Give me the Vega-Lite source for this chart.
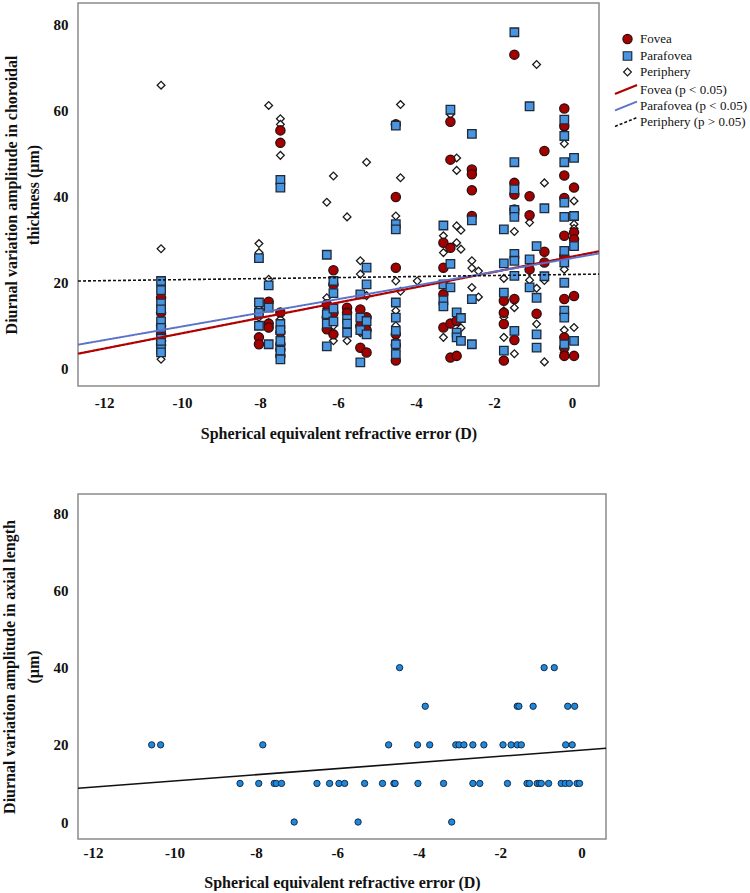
{
  "$schema": "https://vega.github.io/schema/vega-lite/v6.json",
  "background": "white",
  "padding": {"left": 0, "top": 2, "right": 0, "bottom": 0},
  "config": {
    "font": "Liberation Serif",
    "view": {"stroke": "#8a8a8a", "strokeWidth": 1.5},
    "axis": {"grid": false, "domain": false, "ticks": false, "labelFont": "Liberation Serif", "labelFontWeight": "bold", "labelFontSize": 15, "labelColor": "#111", "titleFont": "Liberation Serif", "titleFontWeight": "bold", "titleFontSize": 16, "titleColor": "#111"}
  },
  "datasets": {
    "a": [
      {"se": -10.54, "amp": 65.9, "r": "Periphery"}, {"se": -10.54, "amp": 27.9, "r": "Periphery"}, {"se": -10.54, "amp": 11.3, "r": "Periphery"}, {"se": -10.54, "amp": 9.0, "r": "Periphery"}, {"se": -10.54, "amp": 7.0, "r": "Periphery"}, {"se": -10.54, "amp": 5.0, "r": "Periphery"}, {"se": -10.54, "amp": 2.2, "r": "Periphery"},
      {"se": -8.03, "amp": 29.1, "r": "Periphery"}, {"se": -8.03, "amp": 27.0, "r": "Periphery"}, {"se": -8.03, "amp": 14.5, "r": "Periphery"}, {"se": -8.03, "amp": 12.0, "r": "Periphery"},
      {"se": -7.78, "amp": 61.2, "r": "Periphery"}, {"se": -7.78, "amp": 20.8, "r": "Periphery"}, {"se": -7.78, "amp": 10.7, "r": "Periphery"}, {"se": -7.78, "amp": 9.5, "r": "Periphery"},
      {"se": -7.48, "amp": 58.1, "r": "Periphery"}, {"se": -7.48, "amp": 56.8, "r": "Periphery"}, {"se": -7.48, "amp": 49.6, "r": "Periphery"}, {"se": -7.48, "amp": 11.5, "r": "Periphery"}, {"se": -7.48, "amp": 8.0, "r": "Periphery"}, {"se": -7.48, "amp": 7.0, "r": "Periphery"},
      {"se": -6.29, "amp": 38.7, "r": "Periphery"}, {"se": -6.29, "amp": 16.5, "r": "Periphery"}, {"se": -6.29, "amp": 14.0, "r": "Periphery"}, {"se": -6.29, "amp": 11.5, "r": "Periphery"},
      {"se": -6.12, "amp": 44.8, "r": "Periphery"}, {"se": -6.12, "amp": 12.5, "r": "Periphery"}, {"se": -6.12, "amp": 10.0, "r": "Periphery"}, {"se": -6.12, "amp": 6.5, "r": "Periphery"},
      {"se": -5.77, "amp": 35.3, "r": "Periphery"}, {"se": -5.77, "amp": 12.5, "r": "Periphery"}, {"se": -5.77, "amp": 9.6, "r": "Periphery"}, {"se": -5.77, "amp": 6.5, "r": "Periphery"},
      {"se": -5.43, "amp": 25.1, "r": "Periphery"}, {"se": -5.43, "amp": 22.0, "r": "Periphery"}, {"se": -5.43, "amp": 11.0, "r": "Periphery"}, {"se": -5.43, "amp": 8.4, "r": "Periphery"},
      {"se": -5.27, "amp": 48.0, "r": "Periphery"}, {"se": -5.27, "amp": 17.0, "r": "Periphery"}, {"se": -5.27, "amp": 10.0, "r": "Periphery"},
      {"se": -4.52, "amp": 35.5, "r": "Periphery"}, {"se": -4.52, "amp": 20.4, "r": "Periphery"}, {"se": -4.52, "amp": 13.5, "r": "Periphery"}, {"se": -4.52, "amp": 10.0, "r": "Periphery"}, {"se": -4.52, "amp": 6.5, "r": "Periphery"}, {"se": -4.52, "amp": 4.0, "r": "Periphery"},
      {"se": -4.40, "amp": 61.4, "r": "Periphery"}, {"se": -4.40, "amp": 44.4, "r": "Periphery"}, {"se": -4.40, "amp": 18.0, "r": "Periphery"},
      {"se": -3.97, "amp": 20.4, "r": "Periphery"},
      {"se": -3.30, "amp": 30.9, "r": "Periphery"}, {"se": -3.30, "amp": 27.0, "r": "Periphery"}, {"se": -3.30, "amp": 7.3, "r": "Periphery"},
      {"se": -3.12, "amp": 59.1, "r": "Periphery"}, {"se": -3.12, "amp": 28.0, "r": "Periphery"},
      {"se": -2.96, "amp": 49.0, "r": "Periphery"}, {"se": -2.96, "amp": 46.1, "r": "Periphery"}, {"se": -2.96, "amp": 33.2, "r": "Periphery"}, {"se": -2.96, "amp": 29.3, "r": "Periphery"}, {"se": -2.96, "amp": 8.5, "r": "Periphery"},
      {"se": -2.85, "amp": 32.2, "r": "Periphery"}, {"se": -2.85, "amp": 27.8, "r": "Periphery"}, {"se": -2.85, "amp": 9.5, "r": "Periphery"},
      {"se": -2.57, "amp": 25.1, "r": "Periphery"}, {"se": -2.57, "amp": 23.4, "r": "Periphery"}, {"se": -2.57, "amp": 18.9, "r": "Periphery"},
      {"se": -2.40, "amp": 22.7, "r": "Periphery"}, {"se": -2.40, "amp": 16.7, "r": "Periphery"},
      {"se": -1.75, "amp": 21.0, "r": "Periphery"}, {"se": -1.75, "amp": 13.5, "r": "Periphery"}, {"se": -1.75, "amp": 12.0, "r": "Periphery"}, {"se": -1.75, "amp": 7.3, "r": "Periphery"},
      {"se": -1.48, "amp": 31.9, "r": "Periphery"}, {"se": -1.48, "amp": 26.0, "r": "Periphery"}, {"se": -1.48, "amp": 14.2, "r": "Periphery"}, {"se": -1.48, "amp": 3.5, "r": "Periphery"},
      {"se": -1.09, "amp": 34.0, "r": "Periphery"}, {"se": -1.09, "amp": 20.6, "r": "Periphery"},
      {"se": -0.91, "amp": 70.7, "r": "Periphery"}, {"se": -0.91, "amp": 18.7, "r": "Periphery"}, {"se": -0.91, "amp": 10.4, "r": "Periphery"},
      {"se": -0.71, "amp": 43.2, "r": "Periphery"}, {"se": -0.71, "amp": 20.5, "r": "Periphery"}, {"se": -0.71, "amp": 1.6, "r": "Periphery"},
      {"se": -0.20, "amp": 55.8, "r": "Periphery"}, {"se": -0.20, "amp": 52.3, "r": "Periphery"}, {"se": -0.20, "amp": 23.1, "r": "Periphery"}, {"se": -0.20, "amp": 9.0, "r": "Periphery"}, {"se": -0.20, "amp": 3.8, "r": "Periphery"},
      {"se": 0.05, "amp": 39.0, "r": "Periphery"}, {"se": 0.05, "amp": 33.6, "r": "Periphery"}, {"se": 0.05, "amp": 32.6, "r": "Periphery"}, {"se": 0.05, "amp": 9.6, "r": "Periphery"},

      {"se": -10.54, "amp": 16.5, "r": "Fovea"}, {"se": -10.54, "amp": 13.0, "r": "Fovea"}, {"se": -10.54, "amp": 10.0, "r": "Fovea"}, {"se": -10.54, "amp": 8.0, "r": "Fovea"}, {"se": -10.54, "amp": 6.5, "r": "Fovea"}, {"se": -10.54, "amp": 5.5, "r": "Fovea"},
      {"se": -8.03, "amp": 7.3, "r": "Fovea"}, {"se": -8.03, "amp": 5.7, "r": "Fovea"},
      {"se": -7.78, "amp": 15.6, "r": "Fovea"}, {"se": -7.78, "amp": 10.5, "r": "Fovea"}, {"se": -7.78, "amp": 9.6, "r": "Fovea"},
      {"se": -7.48, "amp": 55.4, "r": "Fovea"}, {"se": -7.48, "amp": 52.5, "r": "Fovea"}, {"se": -7.48, "amp": 13.1, "r": "Fovea"}, {"se": -7.48, "amp": 8.5, "r": "Fovea"}, {"se": -7.48, "amp": 5.7, "r": "Fovea"}, {"se": -7.48, "amp": 4.5, "r": "Fovea"}, {"se": -7.48, "amp": 3.0, "r": "Fovea"},
      {"se": -6.29, "amp": 15.0, "r": "Fovea"}, {"se": -6.29, "amp": 12.0, "r": "Fovea"}, {"se": -6.29, "amp": 9.2, "r": "Fovea"},
      {"se": -6.12, "amp": 22.9, "r": "Fovea"}, {"se": -6.12, "amp": 19.6, "r": "Fovea"}, {"se": -6.12, "amp": 13.0, "r": "Fovea"}, {"se": -6.12, "amp": 8.0, "r": "Fovea"},
      {"se": -5.77, "amp": 14.2, "r": "Fovea"}, {"se": -5.77, "amp": 13.0, "r": "Fovea"},
      {"se": -5.43, "amp": 13.8, "r": "Fovea"}, {"se": -5.43, "amp": 10.0, "r": "Fovea"}, {"se": -5.43, "amp": 4.9, "r": "Fovea"},
      {"se": -5.27, "amp": 12.0, "r": "Fovea"}, {"se": -5.27, "amp": 9.0, "r": "Fovea"}, {"se": -5.27, "amp": 3.8, "r": "Fovea"},
      {"se": -4.52, "amp": 56.8, "r": "Fovea"}, {"se": -4.52, "amp": 39.9, "r": "Fovea"}, {"se": -4.52, "amp": 23.5, "r": "Fovea"}, {"se": -4.52, "amp": 8.0, "r": "Fovea"}, {"se": -4.52, "amp": 5.5, "r": "Fovea"}, {"se": -4.52, "amp": 1.9, "r": "Fovea"},
      {"se": -3.30, "amp": 29.3, "r": "Fovea"}, {"se": -3.30, "amp": 23.5, "r": "Fovea"}, {"se": -3.30, "amp": 17.3, "r": "Fovea"}, {"se": -3.30, "amp": 9.6, "r": "Fovea"},
      {"se": -3.12, "amp": 57.4, "r": "Fovea"}, {"se": -3.12, "amp": 48.6, "r": "Fovea"}, {"se": -3.12, "amp": 28.1, "r": "Fovea"}, {"se": -3.12, "amp": 10.5, "r": "Fovea"}, {"se": -3.12, "amp": 2.6, "r": "Fovea"},
      {"se": -2.96, "amp": 11.1, "r": "Fovea"}, {"se": -2.96, "amp": 3.0, "r": "Fovea"},
      {"se": -2.57, "amp": 46.3, "r": "Fovea"}, {"se": -2.57, "amp": 45.2, "r": "Fovea"}, {"se": -2.57, "amp": 41.5, "r": "Fovea"}, {"se": -2.57, "amp": 35.5, "r": "Fovea"},
      {"se": -1.75, "amp": 15.8, "r": "Fovea"}, {"se": -1.75, "amp": 13.0, "r": "Fovea"}, {"se": -1.75, "amp": 10.4, "r": "Fovea"}, {"se": -1.75, "amp": 1.9, "r": "Fovea"},
      {"se": -1.48, "amp": 73.0, "r": "Fovea"}, {"se": -1.48, "amp": 43.2, "r": "Fovea"}, {"se": -1.48, "amp": 40.5, "r": "Fovea"}, {"se": -1.48, "amp": 37.0, "r": "Fovea"}, {"se": -1.48, "amp": 16.2, "r": "Fovea"}, {"se": -1.48, "amp": 6.7, "r": "Fovea"},
      {"se": -1.09, "amp": 40.1, "r": "Fovea"}, {"se": -1.09, "amp": 35.7, "r": "Fovea"}, {"se": -1.09, "amp": 23.1, "r": "Fovea"},
      {"se": -0.91, "amp": 12.8, "r": "Fovea"},
      {"se": -0.71, "amp": 50.6, "r": "Fovea"}, {"se": -0.71, "amp": 27.2, "r": "Fovea"}, {"se": -0.71, "amp": 24.7, "r": "Fovea"},
      {"se": -0.20, "amp": 60.5, "r": "Fovea"}, {"se": -0.20, "amp": 56.4, "r": "Fovea"}, {"se": -0.20, "amp": 44.9, "r": "Fovea"}, {"se": -0.20, "amp": 39.7, "r": "Fovea"}, {"se": -0.20, "amp": 30.9, "r": "Fovea"}, {"se": -0.20, "amp": 26.2, "r": "Fovea"}, {"se": -0.20, "amp": 16.2, "r": "Fovea"}, {"se": -0.20, "amp": 7.3, "r": "Fovea"}, {"se": -0.20, "amp": 4.9, "r": "Fovea"}, {"se": -0.20, "amp": 3.0, "r": "Fovea"},
      {"se": 0.05, "amp": 42.1, "r": "Fovea"}, {"se": 0.05, "amp": 31.7, "r": "Fovea"}, {"se": 0.05, "amp": 30.1, "r": "Fovea"}, {"se": 0.05, "amp": 16.9, "r": "Fovea"}, {"se": 0.05, "amp": 3.0, "r": "Fovea"},

      {"se": -10.54, "amp": 20.4, "r": "Parafovea"}, {"se": -10.54, "amp": 18.3, "r": "Parafovea"}, {"se": -10.54, "amp": 15.2, "r": "Parafovea"}, {"se": -10.54, "amp": 13.8, "r": "Parafovea"}, {"se": -10.54, "amp": 11.0, "r": "Parafovea"}, {"se": -10.54, "amp": 9.5, "r": "Parafovea"}, {"se": -10.54, "amp": 7.0, "r": "Parafovea"}, {"se": -10.54, "amp": 6.0, "r": "Parafovea"}, {"se": -10.54, "amp": 4.5, "r": "Parafovea"}, {"se": -10.54, "amp": 3.8, "r": "Parafovea"},
      {"se": -8.03, "amp": 25.7, "r": "Parafovea"}, {"se": -8.03, "amp": 15.4, "r": "Parafovea"}, {"se": -8.03, "amp": 13.0, "r": "Parafovea"}, {"se": -8.03, "amp": 10.0, "r": "Parafovea"},
      {"se": -7.78, "amp": 19.4, "r": "Parafovea"}, {"se": -7.78, "amp": 14.2, "r": "Parafovea"}, {"se": -7.78, "amp": 5.7, "r": "Parafovea"},
      {"se": -7.48, "amp": 43.9, "r": "Parafovea"}, {"se": -7.48, "amp": 42.1, "r": "Parafovea"}, {"se": -7.48, "amp": 10.4, "r": "Parafovea"}, {"se": -7.48, "amp": 9.0, "r": "Parafovea"}, {"se": -7.48, "amp": 6.5, "r": "Parafovea"}, {"se": -7.48, "amp": 4.2, "r": "Parafovea"}, {"se": -7.48, "amp": 2.2, "r": "Parafovea"},
      {"se": -6.29, "amp": 26.5, "r": "Parafovea"}, {"se": -6.29, "amp": 12.7, "r": "Parafovea"}, {"se": -6.29, "amp": 10.5, "r": "Parafovea"}, {"se": -6.29, "amp": 5.2, "r": "Parafovea"},
      {"se": -6.12, "amp": 20.4, "r": "Parafovea"}, {"se": -6.12, "amp": 17.6, "r": "Parafovea"}, {"se": -6.12, "amp": 14.0, "r": "Parafovea"}, {"se": -6.12, "amp": 11.0, "r": "Parafovea"},
      {"se": -5.77, "amp": 11.6, "r": "Parafovea"}, {"se": -5.77, "amp": 10.5, "r": "Parafovea"}, {"se": -5.77, "amp": 8.4, "r": "Parafovea"},
      {"se": -5.43, "amp": 17.3, "r": "Parafovea"}, {"se": -5.43, "amp": 11.9, "r": "Parafovea"}, {"se": -5.43, "amp": 9.0, "r": "Parafovea"}, {"se": -5.43, "amp": 1.5, "r": "Parafovea"},
      {"se": -5.27, "amp": 23.5, "r": "Parafovea"}, {"se": -5.27, "amp": 19.6, "r": "Parafovea"}, {"se": -5.27, "amp": 11.1, "r": "Parafovea"}, {"se": -5.27, "amp": 8.0, "r": "Parafovea"},
      {"se": -4.52, "amp": 56.5, "r": "Parafovea"}, {"se": -4.52, "amp": 33.6, "r": "Parafovea"}, {"se": -4.52, "amp": 32.4, "r": "Parafovea"}, {"se": -4.52, "amp": 15.4, "r": "Parafovea"}, {"se": -4.52, "amp": 11.9, "r": "Parafovea"}, {"se": -4.52, "amp": 8.8, "r": "Parafovea"}, {"se": -4.52, "amp": 5.7, "r": "Parafovea"}, {"se": -4.52, "amp": 3.4, "r": "Parafovea"},
      {"se": -3.30, "amp": 33.3, "r": "Parafovea"}, {"se": -3.30, "amp": 19.6, "r": "Parafovea"}, {"se": -3.30, "amp": 15.9, "r": "Parafovea"}, {"se": -3.30, "amp": 14.5, "r": "Parafovea"},
      {"se": -3.12, "amp": 60.2, "r": "Parafovea"}, {"se": -3.12, "amp": 24.4, "r": "Parafovea"}, {"se": -3.12, "amp": 18.9, "r": "Parafovea"},
      {"se": -2.96, "amp": 13.1, "r": "Parafovea"}, {"se": -2.96, "amp": 8.4, "r": "Parafovea"}, {"se": -2.96, "amp": 7.3, "r": "Parafovea"},
      {"se": -2.85, "amp": 11.8, "r": "Parafovea"}, {"se": -2.85, "amp": 6.5, "r": "Parafovea"},
      {"se": -2.57, "amp": 54.6, "r": "Parafovea"}, {"se": -2.57, "amp": 34.5, "r": "Parafovea"}, {"se": -2.57, "amp": 16.2, "r": "Parafovea"}, {"se": -2.57, "amp": 5.7, "r": "Parafovea"},
      {"se": -1.75, "amp": 32.4, "r": "Parafovea"}, {"se": -1.75, "amp": 24.5, "r": "Parafovea"}, {"se": -1.75, "amp": 17.7, "r": "Parafovea"}, {"se": -1.75, "amp": 4.2, "r": "Parafovea"},
      {"se": -1.48, "amp": 78.2, "r": "Parafovea"}, {"se": -1.48, "amp": 48.0, "r": "Parafovea"}, {"se": -1.48, "amp": 41.7, "r": "Parafovea"}, {"se": -1.48, "amp": 36.9, "r": "Parafovea"}, {"se": -1.48, "amp": 35.3, "r": "Parafovea"}, {"se": -1.48, "amp": 26.7, "r": "Parafovea"}, {"se": -1.48, "amp": 25.1, "r": "Parafovea"}, {"se": -1.48, "amp": 21.6, "r": "Parafovea"}, {"se": -1.48, "amp": 8.8, "r": "Parafovea"},
      {"se": -1.09, "amp": 61.0, "r": "Parafovea"}, {"se": -1.09, "amp": 25.4, "r": "Parafovea"}, {"se": -1.09, "amp": 18.9, "r": "Parafovea"},
      {"se": -0.91, "amp": 28.5, "r": "Parafovea"}, {"se": -0.91, "amp": 16.5, "r": "Parafovea"}, {"se": -0.91, "amp": 8.0, "r": "Parafovea"}, {"se": -0.91, "amp": 4.9, "r": "Parafovea"},
      {"se": -0.71, "amp": 37.3, "r": "Parafovea"}, {"se": -0.71, "amp": 21.5, "r": "Parafovea"},
      {"se": -0.20, "amp": 57.9, "r": "Parafovea"}, {"se": -0.20, "amp": 54.1, "r": "Parafovea"}, {"se": -0.20, "amp": 48.0, "r": "Parafovea"}, {"se": -0.20, "amp": 38.6, "r": "Parafovea"}, {"se": -0.20, "amp": 35.3, "r": "Parafovea"}, {"se": -0.20, "amp": 27.4, "r": "Parafovea"}, {"se": -0.20, "amp": 24.7, "r": "Parafovea"}, {"se": -0.20, "amp": 20.0, "r": "Parafovea"}, {"se": -0.20, "amp": 13.5, "r": "Parafovea"}, {"se": -0.20, "amp": 11.9, "r": "Parafovea"}, {"se": -0.20, "amp": 5.7, "r": "Parafovea"},
      {"se": 0.05, "amp": 49.0, "r": "Parafovea"}, {"se": 0.05, "amp": 35.5, "r": "Parafovea"}, {"se": 0.05, "amp": 28.5, "r": "Parafovea"}, {"se": 0.05, "amp": 6.5, "r": "Parafovea"}
    ],
    "afit": [
      {"se": -12.67, "amp": 3.5, "fit": "Fovea (p < 0.05)"}, {"se": 0.69, "amp": 27.3, "fit": "Fovea (p < 0.05)"},
      {"se": -12.67, "amp": 5.6, "fit": "Parafovea  (p < 0.05)"}, {"se": 0.69, "amp": 26.8, "fit": "Parafovea  (p < 0.05)"},
      {"se": -12.67, "amp": 20.4, "fit": "Periphery  (p > 0.05)"}, {"se": 0.69, "amp": 22.0, "fit": "Periphery  (p > 0.05)"}
    ],
    "b": [
      {"se": -10.56, "amp": 20}, {"se": -10.34, "amp": 20}, {"se": -7.83, "amp": 20}, {"se": -4.74, "amp": 20}, {"se": -4.03, "amp": 20}, {"se": -3.73, "amp": 20}, {"se": -3.09, "amp": 20}, {"se": -3.01, "amp": 20}, {"se": -2.89, "amp": 20}, {"se": -2.67, "amp": 20}, {"se": -2.40, "amp": 20}, {"se": -1.93, "amp": 20}, {"se": -1.73, "amp": 20}, {"se": -1.58, "amp": 20}, {"se": -1.48, "amp": 20}, {"se": -0.39, "amp": 20}, {"se": -0.23, "amp": 20},
      {"se": -4.47, "amp": 40}, {"se": -0.92, "amp": 40}, {"se": -0.67, "amp": 40},
      {"se": -3.84, "amp": 30}, {"se": -1.58, "amp": 30}, {"se": -1.54, "amp": 30}, {"se": -1.19, "amp": 30}, {"se": -0.34, "amp": 30}, {"se": -0.17, "amp": 30},
      {"se": -8.39, "amp": 10}, {"se": -7.93, "amp": 10}, {"se": -7.55, "amp": 10}, {"se": -7.50, "amp": 10}, {"se": -7.37, "amp": 10}, {"se": -6.50, "amp": 10}, {"se": -6.19, "amp": 10}, {"se": -5.96, "amp": 10}, {"se": -5.82, "amp": 10}, {"se": -5.33, "amp": 10}, {"se": -4.89, "amp": 10}, {"se": -4.61, "amp": 10}, {"se": -4.58, "amp": 10}, {"se": -4.02, "amp": 10}, {"se": -3.39, "amp": 10}, {"se": -2.67, "amp": 10}, {"se": -2.50, "amp": 10}, {"se": -1.82, "amp": 10}, {"se": -1.34, "amp": 10}, {"se": -1.28, "amp": 10}, {"se": -1.09, "amp": 10}, {"se": -1.03, "amp": 10}, {"se": -0.99, "amp": 10}, {"se": -0.81, "amp": 10}, {"se": -0.50, "amp": 10}, {"se": -0.40, "amp": 10}, {"se": -0.30, "amp": 10}, {"se": -0.11, "amp": 10}, {"se": -0.05, "amp": 10},
      {"se": -7.06, "amp": 0}, {"se": -5.49, "amp": 0}, {"se": -3.19, "amp": 0}
    ],
    "bfit": [
      {"se": -12.37, "amp": 8.76}, {"se": 0.6, "amp": 19.1}
    ]
  },
  "vconcat": [
    {
      "width": 521,
      "height": 383,
      "layer": [
        {
          "data": {"name": "a"},
          "mark": {"type": "point", "opacity": 1, "strokeWidth": 1.3},
          "encoding": {
            "x": {"field": "se", "type": "quantitative", "scale": {"domain": [-12.67, 0.69], "nice": false, "zero": false},
              "axis": {"values": [-12, -10, -8, -6, -4, -2, 0], "labelExpr": "datum.value < 0 ? '-' + abs(datum.value) : '' + datum.value", "labelFont": "Liberation Serif", "labelFontWeight": "bold", "labelFontSize": 15, "labelPadding": 9, "titlePadding": 15, "title": "Spherical equivalent refractive error (D)"}},
            "y": {"field": "amp", "type": "quantitative", "scale": {"domain": [-4, 85], "nice": false, "zero": false},
              "axis": {"values": [0, 20, 40, 60, 80], "labelFont": "Liberation Serif", "labelFontWeight": "bold", "labelFontSize": 15, "labelPadding": 10, "titlePadding": 12, "titleLineHeight": 22, "title": ["Diurnal variation amplitude in choroidal", "thickness (µm)"]}},
            "fill": {"field": "r", "type": "nominal", "scale": {"domain": ["Fovea", "Parafovea", "Periphery"], "range": ["#a50000", "#4a95e0", "#ffffff"]},
              "legend": {"orient": "none", "legendX": 543, "legendY": 29.5, "title": null, "padding": 0, "rowPadding": 2, "labelOffset": 6, "labelFont": "Liberation Serif", "labelFontSize": 13, "labelColor": "#111", "symbolStrokeWidth": 1.2}},
            "stroke": {"field": "r", "type": "nominal", "scale": {"domain": ["Fovea", "Parafovea", "Periphery"], "range": ["#2a1010", "#1e2a3a", "#1a1a1a"]},
              "legend": {"orient": "none", "legendX": 543, "legendY": 29.5, "title": null, "padding": 0, "rowPadding": 2, "labelOffset": 6, "labelFont": "Liberation Serif", "labelFontSize": 13, "labelColor": "#111", "symbolStrokeWidth": 1.2}},
            "shape": {"field": "r", "type": "nominal", "scale": {"domain": ["Fovea", "Parafovea", "Periphery"], "range": ["circle", "square", "diamond"]},
              "legend": {"orient": "none", "legendX": 543, "legendY": 29.5, "title": null, "padding": 0, "rowPadding": 2, "labelOffset": 6, "labelFont": "Liberation Serif", "labelFontSize": 13, "labelColor": "#111", "symbolStrokeWidth": 1.2}},
            "size": {"field": "r", "type": "nominal", "scale": {"domain": ["Fovea", "Parafovea", "Periphery"], "range": [85, 60, 170]},
              "legend": {"orient": "none", "legendX": 543, "legendY": 29.5, "title": null, "padding": 0, "rowPadding": 2, "labelOffset": 6, "labelFont": "Liberation Serif", "labelFontSize": 13, "labelColor": "#111", "symbolStrokeWidth": 1.2}}
          }
        },
        {
          "data": {"name": "afit"},
          "mark": {"type": "line"},
          "encoding": {
            "x": {"field": "se", "type": "quantitative"},
            "y": {"field": "amp", "type": "quantitative"},
            "color": {"field": "fit", "type": "nominal", "scale": {"domain": ["Fovea (p < 0.05)", "Parafovea  (p < 0.05)", "Periphery  (p > 0.05)"], "range": ["#b00000", "#5a72c8", "#111111"]},
              "legend": {"orient": "none", "legendX": 541, "legendY": 79.5, "title": null, "padding": 0, "rowPadding": -1, "labelOffset": 7, "labelFont": "Liberation Serif", "labelFontSize": 13, "labelColor": "#111", "symbolType": "M-2,0.8L2,-0.8", "symbolSize": 121, "symbolStrokeWidth": 1.2}},
            "strokeDash": {"field": "fit", "type": "nominal", "scale": {"domain": ["Fovea (p < 0.05)", "Parafovea  (p < 0.05)", "Periphery  (p > 0.05)"], "range": [[1, 0], [1, 0], [3, 2]]},
              "legend": {"orient": "none", "legendX": 541, "legendY": 79.5, "title": null, "padding": 0, "rowPadding": -1, "labelOffset": 7, "labelFont": "Liberation Serif", "labelFontSize": 13, "labelColor": "#111", "symbolType": "M-2,0.8L2,-0.8", "symbolSize": 121, "symbolStrokeWidth": 1.2}},
            "strokeWidth": {"field": "fit", "type": "nominal", "scale": {"domain": ["Fovea (p < 0.05)", "Parafovea  (p < 0.05)", "Periphery  (p > 0.05)"], "range": [2.2, 1.6, 1.6]}, "legend": null}
          }
        },
        {
          "mark": {"type": "rect", "fill": "#000000"},
          "encoding": {
            "x": {"datum": -12.56, "type": "quantitative"}, "x2": {"datum": -11.54},
            "y": {"datum": 83.8, "type": "quantitative"}, "y2": {"datum": 73.3}
          }
        },
        {
          "mark": {"type": "text", "text": "A", "font": "Liberation Sans", "fontWeight": "bold", "fontSize": 24, "color": "#ffffff", "align": "center", "baseline": "middle"},
          "encoding": {
            "x": {"datum": -12.05, "type": "quantitative"},
            "y": {"datum": 78.4, "type": "quantitative"}
          }
        }
      ],
      "resolve": {"scale": {"color": "independent", "strokeDash": "independent", "strokeWidth": "independent"}}
    },
    {
      "width": 528,
      "height": 345,
      "layer": [
        {
          "data": {"name": "bfit"},
          "mark": {"type": "line", "color": "#111111", "strokeWidth": 1.6},
          "encoding": {
            "x": {"field": "se", "type": "quantitative", "scale": {"domain": [-12.37, 0.6], "nice": false, "zero": false},
              "axis": {"values": [-12, -10, -8, -6, -4, -2, 0], "labelExpr": "datum.value < 0 ? '-' + abs(datum.value) : '' + datum.value", "labelFont": "Liberation Serif", "labelFontWeight": "bold", "labelFontSize": 15, "labelPadding": 6, "titlePadding": 14, "title": "Spherical equivalent refractive error (D)"}},
            "y": {"field": "amp", "type": "quantitative", "scale": {"domain": [-4.4, 85], "nice": false, "zero": false},
              "axis": {"values": [0, 20, 40, 60, 80], "labelFont": "Liberation Serif", "labelFontWeight": "bold", "labelFontSize": 15, "labelPadding": 10, "titlePadding": 12, "titleLineHeight": 24, "title": ["Diurnal variation amplitude in axial length", "(µm)"]}}
          }
        },
        {
          "data": {"name": "b"},
          "mark": {"type": "circle", "size": 40, "opacity": 1, "fill": "#1a8ae0", "stroke": "#1b2b45", "strokeWidth": 1},
          "encoding": {
            "x": {"field": "se", "type": "quantitative"},
            "y": {"field": "amp", "type": "quantitative"}
          }
        },
        {
          "mark": {"type": "rect", "fill": "#000000"},
          "encoding": {
            "x": {"datum": -12.32, "type": "quantitative"}, "x2": {"datum": -11.34},
            "y": {"datum": 83.7, "type": "quantitative"}, "y2": {"datum": 72.0}
          }
        },
        {
          "mark": {"type": "text", "text": "B", "font": "Liberation Sans", "fontWeight": "bold", "fontSize": 24, "color": "#ffffff", "align": "center", "baseline": "middle"},
          "encoding": {
            "x": {"datum": -11.83, "type": "quantitative"},
            "y": {"datum": 77.8, "type": "quantitative"}
          }
        }
      ]
    }
  ],
  "spacing": 51
}
